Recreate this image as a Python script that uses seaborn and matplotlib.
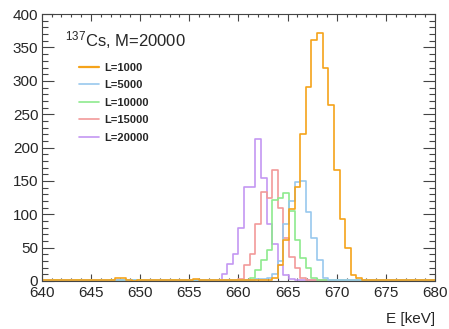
import numpy as np
import pandas as pd
import seaborn as sns
import matplotlib.pyplot as plt
from matplotlib.lines import Line2D
from matplotlib.ticker import MultipleLocator

E_MIN, E_MAX, N_BINS = 640, 680, 70

labels = ["L=1000", "L=5000", "L=10000", "L=15000", "L=20000"]
colors = ["#f5a31a", "#98c8ee", "#8eea8e", "#f29a9a", "#c497f2"]

# counts per bin (70 bins between 640 and 680 keV)
counts_1000 = [2, 1, 2, 1, 1, 1, 1, 2, 1, 1,
               1, 2, 2, 4, 4, 1, 0, 1, 2, 2,
               1, 1, 2, 1, 1, 1, 2, 3, 2, 1,
               1, 2, 1, 1, 2, 1, 2, 2, 2, 2,
               2, 5, 24, 61, 108, 141, 221, 291, 361, 372,
               320, 264, 166, 93, 50, 9, 4, 2, 2, 1,
               2, 1, 2, 2, 1, 1, 2, 1, 2, 2]
counts_5000 = [1, 1, 0, 1, 1, 1, 0, 1, 1, 1,
               1, 1, 0, 1, 1, 1, 1, 0, 1, 1,
               1, 1, 1, 0, 1, 1, 1, 1, 1, 1,
               1, 1, 1, 1, 2, 1, 2, 2, 3, 3,
               5, 11, 30, 85, 120, 148, 150, 104, 65, 31,
               4, 2, 1, 1, 1, 1, 1, 2, 1, 1,
               1, 1, 1, 1, 1, 2, 1, 1, 1, 1]
counts_10000 = [1, 0, 1, 1, 1, 0, 1, 1, 1, 1,
                1, 1, 1, 0, 1, 1, 1, 1, 1, 1,
                1, 1, 1, 1, 1, 1, 1, 1, 1, 2,
                1, 1, 2, 2, 2, 2, 2, 4, 16, 31,
                46, 121, 124, 132, 105, 61, 34, 19, 4, 2,
                1, 1, 1, 1, 1, 1, 1, 1, 1, 1,
                1, 1, 1, 1, 1, 1, 1, 1, 1, 1]
counts_15000 = [1, 1, 1, 1, 1, 1, 1, 1, 1, 1,
                1, 1, 1, 1, 1, 1, 1, 1, 1, 1,
                1, 1, 1, 1, 1, 1, 1, 1, 1, 1,
                1, 2, 1, 2, 2, 3, 24, 41, 86, 134,
                125, 166, 109, 64, 36, 19, 4, 2, 1, 1,
                1, 1, 1, 1, 1, 1, 1, 1, 1, 1,
                1, 1, 1, 1, 1, 1, 1, 1, 1, 1]
counts_20000 = [1, 1, 1, 2, 1, 1, 1, 1, 1, 1,
                1, 1, 1, 1, 1, 1, 1, 1, 1, 1,
                1, 1, 1, 1, 1, 1, 1, 1, 1, 1,
                2, 2, 11, 26, 41, 80, 141, 141, 213, 154,
                86, 56, 24, 9, 3, 1, 1, 1, 1, 1,
                1, 1, 1, 1, 1, 1, 1, 1, 1, 1,
                1, 1, 1, 1, 1, 1, 1, 1, 1, 1]

bin_w = (E_MAX - E_MIN) / N_BINS
centers = E_MIN + bin_w * (np.arange(N_BINS) + 0.5)

all_counts = [counts_1000, counts_5000, counts_10000, counts_15000, counts_20000]
df = pd.concat([pd.DataFrame({"E": centers, "n": c, "L": lab})
                for lab, c in zip(labels, all_counts)], ignore_index=True)

sns.set_style("ticks")
plt.rcParams["font.family"] = ["Liberation Sans", "DejaVu Sans"]
plt.rcParams["mathtext.default"] = "regular"

fig = plt.figure(figsize=(4.49, 3.29), dpi=100)
ax = fig.add_axes([0.093, 0.146, 0.876, 0.811])

sns.histplot(data=df, x="E", weights="n", hue="L", hue_order=labels,
             binwidth=bin_w, binrange=(E_MIN, E_MAX), element="step",
             fill=False, palette=colors, legend=False, linewidth=1.2, ax=ax)
for ln in ax.lines:
    if ln.get_color() == colors[0]:
        ln.set_linewidth(1.6)

ax.set_xlim(E_MIN, E_MAX)
ax.set_ylim(0, 400)
ax.xaxis.set_major_locator(MultipleLocator(5))
ax.xaxis.set_minor_locator(MultipleLocator(1))
ax.yaxis.set_major_locator(MultipleLocator(50))
ax.yaxis.set_minor_locator(MultipleLocator(10))
ax.tick_params(which="both", direction="in", top=True, right=True,
               color="#444444", width=0.8, labelsize=11)
ax.tick_params(axis="x", which="major", length=5, pad=3.5)
ax.tick_params(axis="x", which="minor", length=2.5)
ax.tick_params(axis="y", which="major", length=8.6, pad=2.5)
ax.tick_params(axis="y", which="minor", length=4.3)
for sp in ax.spines.values():
    sp.set_color("#444444")
    sp.set_linewidth(0.8)

ax.set_ylabel("")
ax.set_xlabel("E [keV]", fontsize=11, ha="right")
ax.xaxis.set_label_coords(1.0, -0.115)

ax.text(0.059, 0.88, r"$^{137}$Cs, M=20000", transform=ax.transAxes,
        fontsize=12, va="baseline")

handles = [Line2D([], [], color=c, lw=1.6 if i == 0 else 1.2)
           for i, c in enumerate(colors)]
ax.legend(handles, labels, loc="upper left", bbox_to_anchor=(0.095, 0.818),
          frameon=False, prop={"weight": "bold", "size": 8},
          handlelength=1.8, handletextpad=0.45, labelspacing=0.68,
          borderaxespad=0, borderpad=0)

fig.savefig("out.png", dpi=100)
